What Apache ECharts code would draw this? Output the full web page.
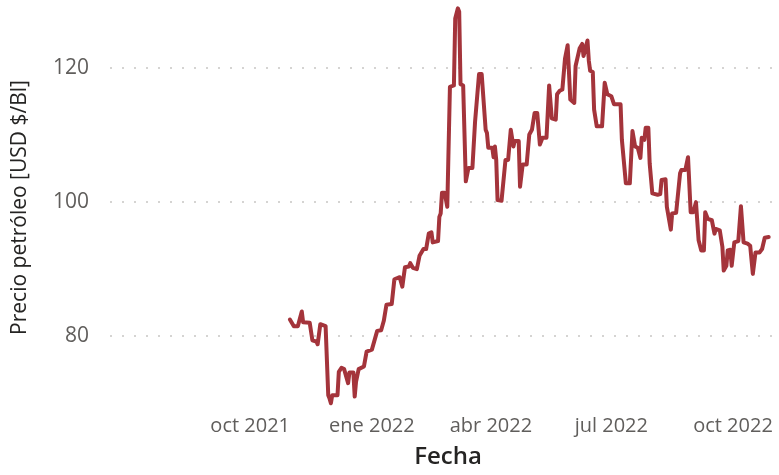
<!DOCTYPE html>
<html>
<head>
<meta charset="utf-8">
<script src="https://cdn.jsdelivr.net/npm/echarts@6/dist/echarts.min.js"></script>
<style>
html,body{margin:0;padding:0;background:#fff;}
#chart{width:779px;height:475px;}
</style>
</head>
<body>
<div id="chart"></div>
<script>
var dates = [
'2021-10-31','2021-11-03','2021-11-06','2021-11-09','2021-11-10','2021-11-15','2021-11-17','2021-11-20','2021-11-21','2021-11-23',
'2021-11-27','2021-11-29','2021-11-30','2021-12-01','2021-12-02','2021-12-06','2021-12-07','2021-12-09','2021-12-11','2021-12-14',
'2021-12-15','2021-12-18','2021-12-19','2021-12-20','2021-12-22','2021-12-26','2021-12-28','2022-01-01','2022-01-05','2022-01-08',
'2022-01-10','2022-01-12','2022-01-16','2022-01-18','2022-01-22','2022-01-24','2022-01-26','2022-01-29','2022-01-30','2022-02-01',
'2022-02-04','2022-02-06','2022-02-09','2022-02-11','2022-02-13','2022-02-15','2022-02-16','2022-02-20','2022-02-21','2022-02-22',
'2022-02-23','2022-02-25','2022-02-27','2022-03-01','2022-03-04','2022-03-05','2022-03-07','2022-03-08','2022-03-09','2022-03-11',
'2022-03-13','2022-03-15','2022-03-18','2022-03-20','2022-03-23','2022-03-25','2022-03-28','2022-03-29','2022-03-30','2022-04-02',
'2022-04-03','2022-04-04','2022-04-05','2022-04-06','2022-04-09','2022-04-12','2022-04-14','2022-04-16','2022-04-18','2022-04-19',
'2022-04-22','2022-04-23','2022-04-25','2022-04-28','2022-04-30','2022-05-02','2022-05-04','2022-05-06','2022-05-08','2022-05-10',
'2022-05-13','2022-05-15','2022-05-17','2022-05-20','2022-05-21','2022-05-23','2022-05-25','2022-05-27','2022-05-29','2022-05-31',
'2022-06-03','2022-06-04','2022-06-07','2022-06-09','2022-06-10','2022-06-13','2022-06-14','2022-06-15','2022-06-17','2022-06-18',
'2022-06-20','2022-06-24','2022-06-26','2022-06-28','2022-07-01','2022-07-03','2022-07-08','2022-07-09','2022-07-12','2022-07-15',
'2022-07-17','2022-07-19','2022-07-21','2022-07-23','2022-07-24','2022-07-26','2022-07-27','2022-07-29','2022-07-30','2022-08-01',
'2022-08-05','2022-08-07','2022-08-08','2022-08-11','2022-08-12','2022-08-15','2022-08-16','2022-08-19','2022-08-22','2022-08-23',
'2022-08-26','2022-08-28','2022-08-30','2022-09-01','2022-09-03','2022-09-05','2022-09-07','2022-09-09','2022-09-10','2022-09-12',
'2022-09-15','2022-09-17','2022-09-18','2022-09-21','2022-09-23','2022-09-24','2022-09-26','2022-09-27','2022-09-29','2022-09-30',
'2022-10-02','2022-10-05','2022-10-07','2022-10-09','2022-10-12','2022-10-14','2022-10-16','2022-10-18','2022-10-21','2022-10-23',
'2022-10-25','2022-10-28'
];
var prices = [
82.5,81.5,81.5,83.7,82.1,82.0,79.4,79.2,78.8,81.8,
81.5,71.2,70.7,70.0,71.2,71.2,74.7,75.3,75.1,73.0,
74.6,74.6,71.0,73.2,75.1,75.5,77.7,78.0,80.8,80.9,
82.3,84.7,84.8,88.5,88.8,87.4,90.3,90.4,90.9,90.2,
90.0,92.0,93.0,93.0,95.3,95.5,94.0,94.2,97.8,98.3,
101.4,101.4,99.3,117.2,117.4,127.4,128.9,128.4,117.6,117.4,
103.1,105.1,105.1,112.0,119.1,119.1,110.8,110.3,108.1,108.1,
106.7,108.3,106.3,100.3,100.2,106.3,106.3,110.8,108.3,109.1,
109.1,102.3,105.6,105.6,110.1,110.8,113.3,113.3,108.6,109.6,
109.6,117.4,112.5,112.3,116.1,116.6,116.8,121.4,123.4,115.3,
114.8,120.3,122.9,123.6,121.8,124.1,121.1,119.6,119.4,113.8,
111.3,111.3,117.8,116.1,115.8,114.6,114.6,109.3,102.8,102.8,
110.6,108.3,108.1,106.6,109.6,109.3,111.1,111.1,105.8,101.3,
101.1,101.2,103.3,103.4,99.3,95.9,98.3,98.4,104.3,104.8,
104.8,106.7,98.5,98.5,100.0,94.3,92.8,92.8,98.5,97.5,
97.3,95.3,96.0,95.8,93.3,89.8,90.5,92.8,92.9,90.5,
94.0,94.2,99.4,94.0,93.8,93.5,89.3,92.5,92.5,93.0,
94.7,94.8
];
var xTickDates = ['2021-10-01','2022-01-01','2022-04-01','2022-07-01','2022-10-01'];
var xTickLabels = ['oct 2021','ene 2022','abr 2022','jul 2022','oct 2022'];
var yTicks = [80, 100, 120];

function ts(s){ var p = s.split('-'); return Date.UTC(+p[0], +p[1]-1, +p[2]); }
var tickTs = xTickDates.map(ts);
var seriesData = dates.map(function(d, i){ return [ts(d), prices[i]]; });

var chart = echarts.init(document.getElementById('chart'));
chart.setOption({
  animation: false,
  backgroundColor: '#ffffff',
  grid: { left: 110, right: 5, top: 5, bottom: 65, containLabel: false },
  xAxis: {
    type: 'value',
    min: ts('2021-06-17'),
    max: ts('2022-11-01'),
    name: 'Fecha',
    nameLocation: 'middle',
    nameGap: 35,
    nameTextStyle: { fontFamily: 'Open Sans', fontSize: 24, fontWeight: 600, color: '#252423', padding: [0, 0, 0, 12] },
    axisLine: { show: false },
    axisTick: { show: false, customValues: tickTs },
    splitLine: { show: false },
    axisLabel: {
      customValues: tickTs,
      margin: 6,
      fontFamily: 'Open Sans',
      fontSize: 20,
      color: '#605e5c',
      hideOverlap: false,
      formatter: function (v) {
        var i = tickTs.indexOf(v);
        return i >= 0 ? xTickLabels[i] : '';
      }
    }
  },
  yAxis: {
    type: 'value',
    min: 69,
    max: 129.4,
    name: 'Precio petróleo [USD $/Bl]',
    nameLocation: 'middle',
    nameGap: 79,
    nameTextStyle: { fontFamily: 'Open Sans', fontSize: 21, color: '#252423' },
    axisLine: { show: false },
    axisTick: { show: false, customValues: yTicks },
    axisLabel: {
      customValues: yTicks,
      margin: 21,
      fontFamily: 'Open Sans',
      fontSize: 21,
      color: '#605e5c'
    },
    splitLine: { show: true, lineStyle: { color: '#c8c6c4', width: 1.5, type: [2, 10] } }
  },
  series: [{
    type: 'line',
    data: seriesData,
    showSymbol: false,
    smooth: false,
    lineStyle: { color: '#a4343b', width: 4, join: 'round', cap: 'round' },
    itemStyle: { color: '#a4343b' }
  }]
});
</script>
</body>
</html>
